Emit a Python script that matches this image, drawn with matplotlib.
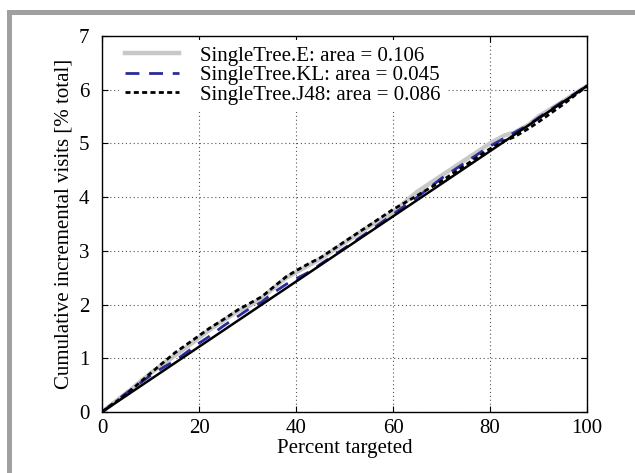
import matplotlib
matplotlib.use("Agg")
import matplotlib.pyplot as plt
from matplotlib.patches import Rectangle

plt.rcParams['font.family'] = ['Liberation Serif', 'DejaVu Serif']

# percent targeted
x = [0, 5, 10, 13, 15, 20, 22, 25, 28, 30, 33, 35, 38, 40, 43, 45, 50, 55, 60,
     65, 70, 75, 80, 83, 85, 88, 90, 95, 100]

e_vals = [0, 0.35, 0.72, 0.92, 1.05, 1.38, 1.52, 1.7, 1.88, 1.96, 2.12, 2.28,
          2.5, 2.6, 2.75, 2.85, 3.15, 3.45, 3.72, 4.1, 4.4, 4.7, 5.0, 5.15, 5.2,
          5.35, 5.5, 5.78, 6.07]
kl_vals = [0, 0.35, 0.68, 0.85, 0.95, 1.28, 1.4, 1.6, 1.78, 1.9, 2.05, 2.2,
           2.38, 2.48, 2.62, 2.75, 3.05, 3.36, 3.68, 4.0, 4.35, 4.65, 4.95, 5.1, 5.2,
           5.35, 5.48, 5.78, 6.07]
j48_vals = [0, 0.33, 0.72, 0.95, 1.1, 1.42, 1.55, 1.72, 1.9, 2.0, 2.15, 2.3,
            2.52, 2.63, 2.78, 2.87, 3.17, 3.47, 3.77, 4.03, 4.3, 4.6, 4.9, 5.05, 5.12,
            5.28, 5.4, 5.72, 6.07]
diag_end = 6.07

fig = plt.figure(figsize=(6.35, 4.73), dpi=100)
ax = fig.add_axes([102/635, 1 - 412/473, 485/635, 376/473])

# gray frame on top and left edge
fig.add_artist(Rectangle((7/635, 1 - 15/473), 1, 5/473, transform=fig.transFigure,
                         color='#a0a0a0', lw=0))
fig.add_artist(Rectangle((7/635, 0), 5/635, 1 - 10/473, transform=fig.transFigure,
                         color='#a0a0a0', lw=0))

ax.plot(x, e_vals, color='#c8c8c8', lw=3.2, label='SingleTree.E: area = 0.106')
ax.plot(x, kl_vals, color='#2b2b9b', lw=2, dashes=(5, 3.5), label='SingleTree.KL: area = 0.045')
ax.plot(x, j48_vals, color='black', lw=2, dashes=(1.8, 1.2), label='SingleTree.J48: area = 0.086')
ax.plot([0, 100], [0, diag_end], color='black', lw=1.8)

ax.set_xlim(0, 100)
ax.set_ylim(0, 7)
ax.set_xticks([0, 20, 40, 60, 80, 100])
ax.set_yticks(range(8))
ax.grid(True, linestyle=(0, (1, 2.5)), color='#555555', lw=0.8)
ax.tick_params(direction='in', top=True, right=True, labelsize=15, length=4)
ax.tick_params(axis='x', pad=5)
ax.tick_params(axis='y', pad=9)
for s in ax.spines.values():
    s.set_linewidth(1.0)

ax.set_xlabel('Percent targeted', fontsize=15, labelpad=1)
ax.set_ylabel('Cumulative incremental visits [% total]', fontsize=15, labelpad=4)

leg = ax.legend(loc='upper left', bbox_to_anchor=(0.035, 0.99), frameon=True,
                fontsize=15, handlelength=2.6, borderaxespad=0, borderpad=0.3,
                labelspacing=0.0, handletextpad=1.0,
                fancybox=False, edgecolor='none', facecolor='white', framealpha=1)

fig.savefig('out.png', dpi=100)
